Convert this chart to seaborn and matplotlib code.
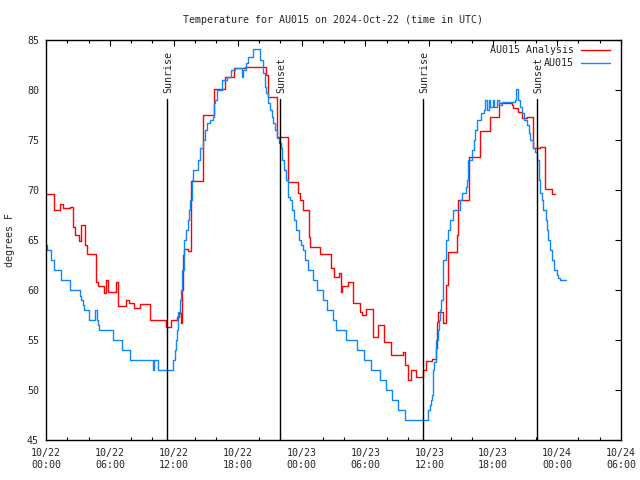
import matplotlib
matplotlib.use("Agg")
import matplotlib.pyplot as plt
import seaborn as sns
import pandas as pd
from matplotlib.ticker import MultipleLocator
from matplotlib.lines import Line2D

# hours since 2024-10-22 00:00 UTC, temperature in degrees F
analysis_hours = [0.00, 0.75, 1.31, 1.60, 2.25, 2.54, 2.72, 3.10, 3.29, 3.66, 3.85, 4.70, 4.88,
                  5.45, 5.63, 5.82, 6.57, 6.76, 7.51, 7.80, 8.26, 8.83, 9.77, 11.27, 11.74,
                  12.30, 12.49, 12.68, 12.77, 12.87, 12.96, 13.34, 13.62, 14.74, 15.78, 16.81,
                  17.66, 18.69, 20.66, 20.85, 21.69, 22.73, 23.67, 23.85, 24.14, 24.70, 24.79,
                  25.73, 26.77, 27.05, 27.52, 27.70, 27.80, 28.36, 28.83, 29.49, 29.68, 30.05,
                  30.71, 31.18, 31.74, 32.40, 33.53, 33.72, 34.00, 34.28, 34.75, 35.41, 35.69,
                  36.25, 36.63, 36.72, 36.81, 37.28, 37.57, 37.75, 38.60, 38.69, 39.73, 40.76,
                  41.70, 42.54, 43.76, 43.86, 44.33, 44.70, 45.17, 45.74, 46.40, 46.86, 47.52,
                  47.80]
analysis_temp = [69.6, 68.0, 68.6, 68.2, 68.3, 66.3, 65.5, 64.9, 66.5, 64.5, 63.6, 60.8, 60.4,
                 59.7, 61.0, 59.8, 60.8, 58.4, 59.0, 58.7, 58.2, 58.6, 57.0, 56.3, 57.0,
                 57.3, 57.7, 56.7, 60.0, 63.5, 64.1, 63.9, 70.9, 77.5, 80.1, 81.3,
                 82.2, 82.3, 81.5, 79.3, 75.3, 70.8, 69.7, 69.0, 68.0, 65.3, 64.3,
                 63.6, 62.2, 61.3, 61.7, 59.8, 60.4, 60.8, 58.7, 57.8, 57.5, 58.1,
                 55.3, 56.5, 54.8, 53.5, 53.8, 52.5, 51.0, 52.0, 51.3, 52.0, 52.9,
                 53.1, 54.2, 56.8, 57.8, 56.7, 60.5, 63.8, 65.5, 69.0, 73.3, 75.9,
                 77.3, 78.7, 78.5, 78.2, 77.8, 77.2, 77.3, 74.2, 74.3, 70.1, 69.6,
                 69.6]

obs_hours = [0.00, 0.09, 0.47, 0.75, 1.41, 2.25, 3.19, 3.29, 3.47, 3.57, 4.04, 4.60, 4.79,
             4.88, 4.98, 6.29, 7.14, 7.89, 10.05, 10.14, 10.52, 11.93, 12.11, 12.21, 12.30,
             12.40, 12.58, 12.68, 12.77, 12.96, 13.15, 13.34, 13.43, 13.57, 13.71, 13.81,
             14.27, 14.46, 14.79, 14.93, 15.12, 15.40, 15.68, 15.78, 15.87, 16.06, 16.53,
             17.00, 17.37, 17.75, 18.41, 18.50, 18.78, 18.97, 19.44, 20.14, 20.38, 20.57,
             20.66, 20.85, 21.04, 21.22, 21.32, 21.51, 21.69, 21.88, 22.07, 22.16, 22.35,
             22.54, 22.73, 22.92, 23.10, 23.29, 23.48, 23.76, 23.95, 24.14, 24.32, 24.61,
             25.08, 25.45, 26.01, 26.39, 26.95, 27.24, 28.17, 29.21, 29.86, 30.52, 31.37,
             31.93, 32.49, 33.06, 33.72, 35.88, 36.06, 36.16, 36.25, 36.35, 36.44, 36.58,
             36.67, 36.81, 36.91, 37.00, 37.14, 37.28, 37.57, 37.75, 37.94, 38.22, 38.88,
             39.07, 39.45, 39.54, 39.64, 40.02, 40.16, 40.30, 40.48, 40.86, 41.14, 41.23,
             41.42, 41.60, 41.70, 41.98, 42.07, 42.36, 42.54, 42.83, 44.05, 44.14, 44.33,
             44.52, 44.70, 44.89, 45.17, 45.36, 45.45, 45.74, 45.93, 46.11, 46.26, 46.40,
             46.56, 46.71, 46.92, 47.03, 47.18, 47.29, 47.55, 47.74, 47.96, 48.08, 48.27,
             48.84]
obs_temp = [64.5, 64.0, 63.0, 62.0, 61.0, 60.0, 59.4, 59.0, 58.5, 58.0, 57.0, 58.0, 57.0,
            56.5, 56.0, 55.0, 54.0, 53.0, 52.0, 53.0, 52.0, 53.0, 54.0, 55.0, 56.0,
            57.8, 59.0, 60.0, 62.0, 65.0, 66.0, 67.0, 68.0, 69.0, 71.0, 72.0,
            73.0, 74.2, 75.0, 76.0, 76.7, 77.0, 77.3, 78.7, 79.0, 80.0, 81.0,
            81.3, 82.0, 82.2, 81.3, 82.0, 82.7, 83.3, 84.1, 83.0, 81.7, 80.3,
            79.7, 78.7, 78.0, 77.3, 76.7, 76.0, 75.2, 74.7, 74.2, 73.0, 72.0,
            71.0, 69.3, 69.0, 68.0, 67.0, 66.0, 65.0, 64.5, 64.0, 63.0, 62.0,
            61.0, 60.0, 59.0, 58.0, 57.0, 56.0, 55.0, 54.0, 53.0, 52.0, 51.0,
            50.0, 49.0, 48.0, 47.0, 48.0, 48.5, 49.0, 49.5, 52.0, 52.8, 54.0,
            55.0, 56.0, 57.0, 58.0, 59.0, 63.0, 65.0, 66.0, 67.0, 68.0, 69.0,
            69.7, 70.3, 71.0, 73.0, 74.0, 75.0, 76.0, 77.0, 77.7, 78.0, 79.0,
            78.0, 79.0, 78.3, 79.0, 78.3, 79.0, 78.5, 78.8, 79.0, 80.1, 79.0,
            78.3, 77.7, 77.0, 76.5, 75.7, 75.0, 74.2, 73.8, 73.0, 71.0, 69.7,
            69.0, 68.0, 67.0, 66.0, 65.0, 64.0, 63.0, 62.0, 61.5, 61.2, 61.0,
            61.0]

sun_hours = [11.36, 21.98, 35.41, 46.11]
sun_labels = ['Sunrise', 'Sunset', 'Sunrise', 'Sunset']

tick_hours = [0, 6, 12, 18, 24, 30, 36, 42, 48, 54]
tick_labels = ['10/22\n00:00', '10/22\n06:00', '10/22\n12:00', '10/22\n18:00',
               '10/23\n00:00', '10/23\n06:00', '10/23\n12:00', '10/23\n18:00',
               '10/24\n00:00', '10/24\n06:00']

analysis_df = pd.DataFrame({'hours': analysis_hours, 'temp': analysis_temp})
obs_df = pd.DataFrame({'hours': obs_hours, 'temp': obs_temp})

sns.set_style('white')
plt.rcParams['font.family'] = ['DejaVu Sans Mono']
plt.rcParams['font.size'] = 7.2

red = '#ff0000'
blue = '#0f86ff'

fig = plt.figure(figsize=(6.4, 4.8), dpi=100)
ax = fig.add_axes([46 / 640, 40 / 480, 575 / 640, 400 / 480])

sns.lineplot(data=analysis_df, x='hours', y='temp', ax=ax, color=red, lw=1.0,
             drawstyle='steps-post', estimator=None, sort=False)
sns.lineplot(data=obs_df, x='hours', y='temp', ax=ax, color=blue, lw=1.0,
             drawstyle='steps-post', estimator=None, sort=False)

# sunrise / sunset markers
for h, lab in zip(sun_hours, sun_labels):
    ax.plot([h, h], [45, 79.1], color='black', lw=1.0)
    ax.text(h + 0.1, 79.7, lab, rotation=90, ha='center', va='bottom', fontsize=7.2)

ax.set_xlim(0, 54)
ax.set_ylim(45, 85)
ax.set_xticks(tick_hours)
ax.set_xticklabels(tick_labels)
ax.xaxis.set_minor_locator(MultipleLocator(2))
ax.set_yticks(range(45, 90, 5))
ax.set_xlabel('')
ax.set_ylabel('')

for s in ax.spines.values():
    s.set_color('black')
    s.set_linewidth(1.0)

ax.tick_params(axis='both', which='major', direction='in', length=4, width=0.8,
               top=True, right=True, color='black', labelsize=7.2)
ax.tick_params(axis='x', which='minor', direction='in', length=2, width=0.8,
               top=True, bottom=True, color='black')
ax.tick_params(axis='x', pad=6)
ax.tick_params(axis='y', pad=5)

# legend, gnuplot style (text right-aligned, sample to its right)
ax.text(0.9183, 0.975, 'AU015 Analysis', transform=ax.transAxes, ha='right', va='center',
        fontsize=7.2)
ax.text(0.9183, 0.9435, 'AU015', transform=ax.transAxes, ha='right', va='center',
        fontsize=7.2)
ax.add_line(Line2D([0.9304, 0.9809], [0.975, 0.975], transform=ax.transAxes, color=red, lw=1.0))
ax.add_line(Line2D([0.9304, 0.9809], [0.9435, 0.9435], transform=ax.transAxes, color=blue, lw=1.0))

fig.text(333 / 640, 1 - 20 / 480, 'Temperature for AU015 on 2024-Oct-22 (time in UTC)',
         ha='center', va='center', fontsize=7.2)
fig.text(10 / 640, 0.5, 'degrees F', rotation=90, ha='center', va='center', fontsize=7.2)

fig.savefig('out.png', dpi=100)
